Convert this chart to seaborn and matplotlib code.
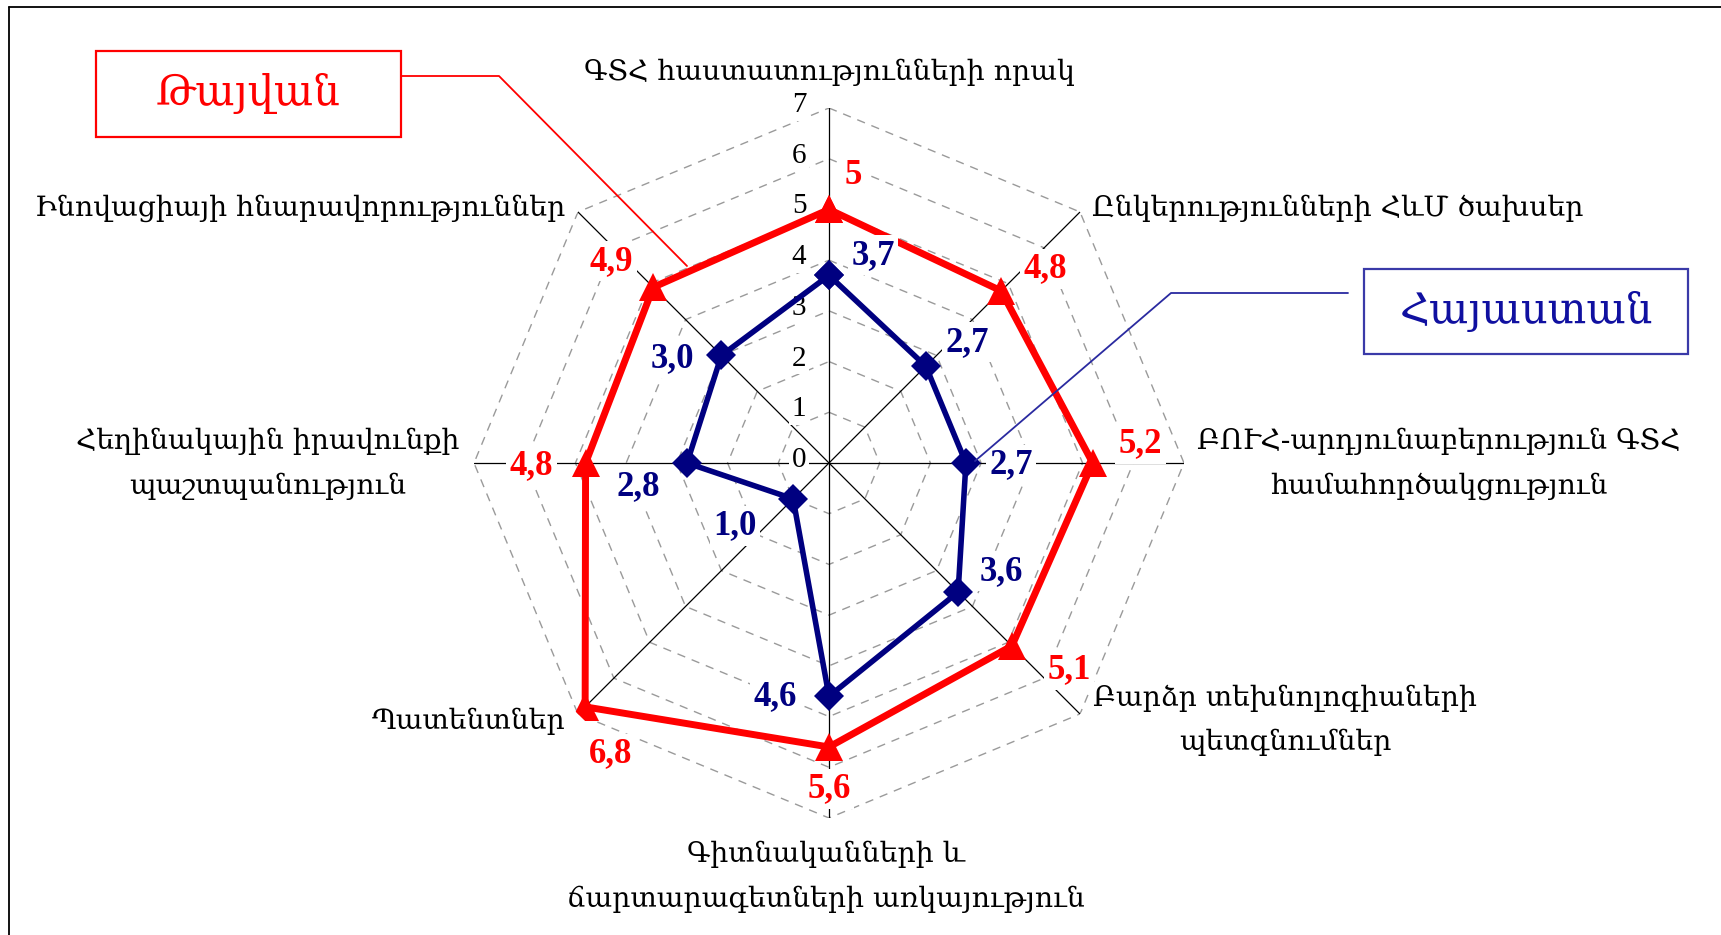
import numpy as np
import pandas as pd
import matplotlib
matplotlib.use("Agg")
import matplotlib.pyplot as plt
from matplotlib.lines import Line2D
import seaborn as sns

# ---------------- data ----------------
categories = [
    "ԳՏՀ հաստատությունների որակ",
    "Ընկերությունների ՀևՄ ծախսեր",
    "ԲՈՒՀ-արդյունաբերություն ԳՏՀ\nհամահործակցություն",
    "Բարձր տեխնոլոգիաների\nպետգնումներ",
    "Գիտնականների և\nճարտարագետների առկայություն",
    "Պատենտներ",
    "Հեղինակային իրավունքի\nպաշտպանություն",
    "Ինովացիայի հնարավորություններ",
]
taiwan = [5.0, 4.8, 5.2, 5.1, 5.6, 6.8, 4.8, 4.9]
armenia = [3.7, 2.7, 2.7, 3.6, 4.6, 1.0, 2.8, 3.0]
taiwan_labels = ["5", "4,8", "5,2", "5,1", "5,6", "6,8", "4,8", "4,9"]
armenia_labels = ["3,7", "2,7", "2,7", "3,6", "4,6", "1,0", "2,8", "3,0"]
series_names = ["Թայվան", "Հայաստան"]
radial_ticks = [0, 1, 2, 3, 4, 5, 6, 7]

# ---------------- style ----------------
sns.set_theme(style="white")
ARM = ["DejaVu Serif Condensed", "DejaVu Serif"]
NUM = ["Liberation Serif", "DejaVu Serif"]
plt.rcParams["font.family"] = ARM

RED = "#FF0000"
NAVY = "#000080"

W, H = 1721, 935
fig = plt.figure(figsize=(W / 100, H / 100), dpi=100)
fig.patch.set_facecolor("white")

cx, cy, R = 829, 463, 355  # pixel centre / radius of 7
ax = fig.add_axes([(cx - R) / W, 1 - (cy + R) / H, 2 * R / W, 2 * R / H],
                  projection="polar")
ax.set_theta_zero_location("N")
ax.set_theta_direction(-1)
ax.set_ylim(0, 7)
ax.grid(False)
ax.set_xticks([])
ax.set_yticks([])
ax.spines["polar"].set_visible(False)
ax.patch.set_alpha(0)

n = len(categories)
theta = np.arange(n) * 2 * np.pi / n
theta_c = np.append(theta, theta[0])

# octagonal dashed grid
for k in radial_ticks[1:]:
    ax.plot(theta_c, [k] * (n + 1), color="#9a9a9a", lw=1.0,
            ls=(0, (6, 5)), zorder=1)
# spokes
for t in theta:
    ax.plot([t, t], [0, 7], color="black", lw=0.9, zorder=1)

# series
df = pd.DataFrame({
    "theta": np.concatenate([theta_c, theta_c]),
    "value": taiwan + [taiwan[0]] + armenia + [armenia[0]],
    "country": [series_names[0]] * (n + 1) + [series_names[1]] * (n + 1),
})
sns.lineplot(data=df[df.country == series_names[0]], x="theta", y="value",
             sort=False, estimator=None, color=RED, lw=5.0, ax=ax,
             marker="^", markersize=20, markeredgewidth=0, zorder=4,
             legend=False)
sns.lineplot(data=df[df.country == series_names[1]], x="theta", y="value",
             sort=False, estimator=None, color=NAVY, lw=4.0, ax=ax,
             marker="D", markersize=15, markeredgewidth=0, zorder=5,
             legend=False)
ax.set_xlabel("")
ax.set_ylabel("")
ax.set_ylim(0, 7)

bb = dict(boxstyle="square,pad=0.1", fc="white", ec="none")

# value labels (pixel offsets from each point)
tw_off = [(24, 34), (44, 22), (48, 19), (57, -24), (0, -42), (25, -47), (-54, -3), (-42, 26)]
ar_off = [(44, 20), (41, 24), (45, -2), (43, 21), (-54, 0), (-58, -27), (-49, -24), (-49, -3)]
for t, v, lab, off in zip(theta, taiwan, taiwan_labels, tw_off):
    ax.annotate(lab, xy=(t, v), xytext=off, textcoords="offset pixels",
                ha="center", va="center", color=RED, fontsize=25,
                fontweight="bold", family=NUM, bbox=bb, zorder=8,
                annotation_clip=False)
for t, v, lab, off in zip(theta, armenia, armenia_labels, ar_off):
    ax.annotate(lab, xy=(t, v), xytext=off, textcoords="offset pixels",
                ha="center", va="center", color=NAVY, fontsize=25,
                fontweight="bold", family=NUM, bbox=bb, zorder=8,
                annotation_clip=False)

# radial tick labels
for k in radial_ticks:
    ax.annotate(str(k), xy=(0, k), xytext=(-30, 3), textcoords="offset pixels",
                ha="center", va="center", color="black", fontsize=21,
                family=NUM, bbox=bb, zorder=3, annotation_clip=False)

# category labels (figure pixel positions)
cat_pos = [
    (829, 72, "center"), (1092, 208, "left"), (1439, 464, "center"),
    (1285, 720, "center"), (826, 877, "center"), (565, 721, "right"),
    (268, 464, "center"), (565, 208, "right"),
]
for lab, (x, y, ha) in zip(categories, cat_pos):
    fig.text(x / W, 1 - y / H, lab, ha=ha, va="center", fontsize=20.3,
             color="black", family=ARM, linespacing=1.8,
             multialignment="center")

# legend boxes with leader lines
fig.text((96 + 401) / 2 / W, 1 - 93 / H, series_names[0], ha="center",
         va="center", fontsize=30, color=RED, family=ARM)
fig.add_artist(plt.Rectangle((96 / W, 1 - 137 / H), 305 / W, 86 / H,
                             fill=False, ec=RED, lw=1.6, transform=fig.transFigure))
fig.add_artist(Line2D([401 / W, 499 / W, 687 / W],
                      [1 - 76 / H, 1 - 76 / H, 1 - 266 / H],
                      color=RED, lw=1.3, transform=fig.transFigure, zorder=6))

fig.text((1364 + 1688) / 2 / W, 1 - 311 / H, series_names[1], ha="center",
         va="center", fontsize=30, color="#1010A0", family=ARM)
fig.add_artist(plt.Rectangle((1364 / W, 1 - 354 / H), 324 / W, 85 / H,
                             fill=False, ec="#3A3AA8", lw=1.6, transform=fig.transFigure))
fig.add_artist(Line2D([1348 / W, 1171 / W, 975 / W],
                      [1 - 293 / H, 1 - 293 / H, 1 - 461 / H],
                      color="#2A2AA0", lw=1.3, transform=fig.transFigure, zorder=6))

# outer frame (top and left edges visible)
fig.add_artist(Line2D([9 / W, 1], [1 - 7 / H, 1 - 7 / H], color="black",
                      lw=1.3, transform=fig.transFigure))
fig.add_artist(Line2D([9 / W, 9 / W], [0, 1 - 7 / H], color="black",
                      lw=1.3, transform=fig.transFigure))

fig.savefig("out.png", dpi=100, facecolor="white")
